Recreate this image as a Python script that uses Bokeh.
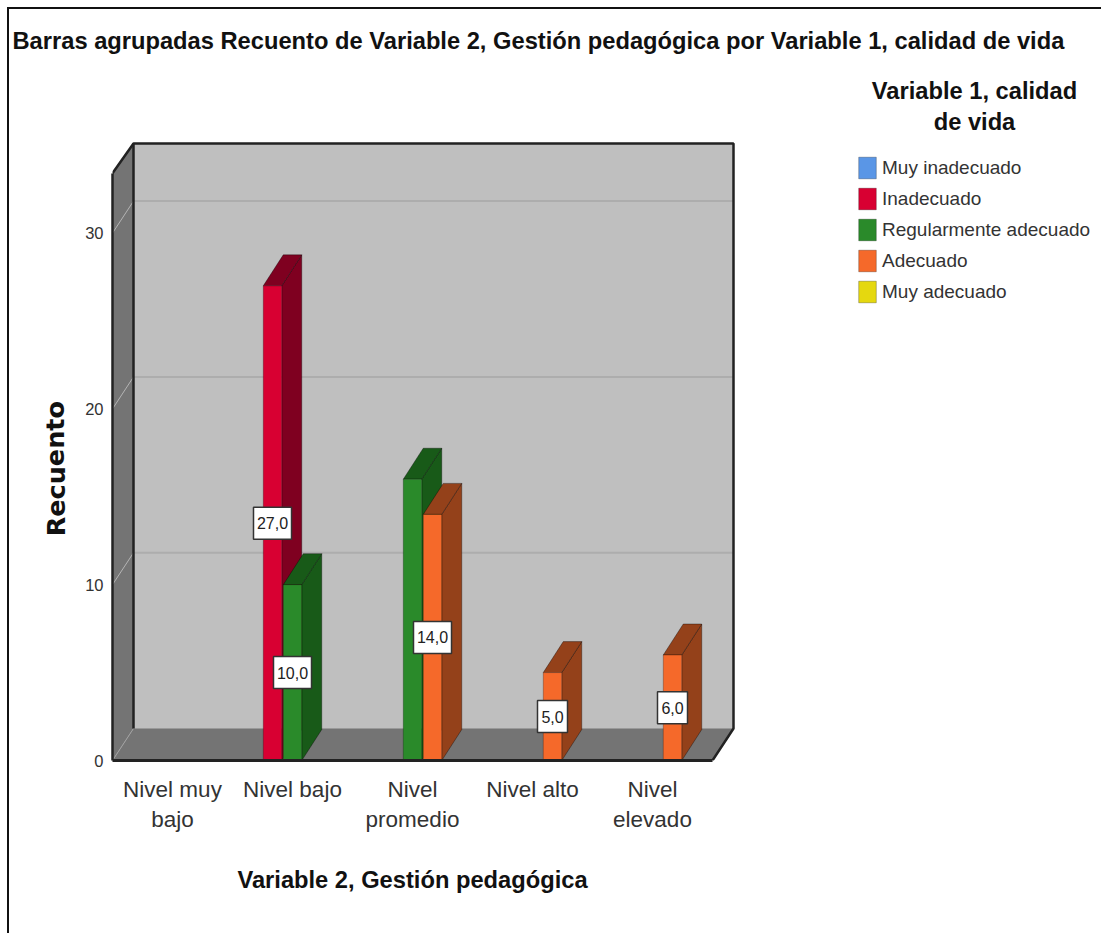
from bokeh.plotting import figure
from bokeh.embed import file_html
from bokeh.resources import INLINE
from bokeh.models import Range1d, Legend, LegendItem, Label, FixedTicker
from bokeh.core.properties import value

categories = ["Nivel muy\nbajo", "Nivel bajo", "Nivel\npromedio", "Nivel alto", "Nivel\nelevado"]
series_names = ["Muy inadecuado", "Inadecuado", "Regularmente adecuado", "Adecuado", "Muy adecuado"]
muy_inadecuado = [0, 0, 0, 0, 0]
inadecuado = [0, 27, 0, 0, 0]
regularmente = [0, 10, 16, 0, 0]
adecuado = [0, 0, 14, 5, 6]
muy_adecuado = [0, 0, 0, 0, 0]
all_series = [muy_inadecuado, inadecuado, regularmente, adecuado, muy_adecuado]
front_colors = ["#5a96e6", "#d80032", "#2a8a2a", "#f5692a", "#e5d80f"]
dark_colors = ["#2f5380", "#7f0020", "#185a18", "#94411a", "#807808"]
hidden_labels = {(2, 2)}  # (series, category) whose value box is not shown
y_ticks = [0, 10, 20, 30]

SANS = "Liberation Sans"
NAN = float("nan")

W, H = 1101, 933
PX_X = 120.0
PX_Y = 17.58
L, T, R, B = 112, 60, 0, H - 760
x0, x1 = -0.5, -0.5 + (W - L - R) / PX_X
y1 = (H - T - B) / PX_Y
DX = 21 / PX_X          # depth of the box in x
DY = 32 / PX_Y          # depth of the box in y
BX = 20 / PX_X          # depth of the bars in x
BY = 31 / PX_Y
STEP = 1 / 6.0
BW = 18.5 / PX_X
WALL_TOP = 35.1
FRONT_TOP = 33.4
FRONT_END = 4.5

p = figure(width=W, height=H, output_backend="svg", toolbar_location=None,
           x_range=Range1d(x0, x1), y_range=Range1d(0, y1),
           min_border_left=L, min_border_right=R, min_border_top=T, min_border_bottom=B,
           x_axis_location="below", y_axis_location="left")
p.grid.visible = False
p.outline_line_color = None
p.background_fill_color = "white"
p.border_fill_color = None
p.styles = {
    "background-color": "white",
    "background-image": "linear-gradient(#111,#111),linear-gradient(#111,#111)",
    "background-size": "2px 926px,1094px 2px",
    "background-position": "7px 7px,7px 7px",
    "background-repeat": "no-repeat",
}

# walls and floor
bx0 = x0 + DX
p.patch([bx0, FRONT_END + DX, FRONT_END + DX, bx0], [DY, DY, WALL_TOP, WALL_TOP],
        fill_color="#bfbfbf", line_color=None)
p.patch([x0, bx0, bx0, x0], [0, DY, WALL_TOP, FRONT_TOP], fill_color="#747474", line_color=None)
p.patch([x0, bx0, FRONT_END + DX, FRONT_END], [0, DY, DY, 0], fill_color="#747474", line_color=None)
# grid lines
for v in y_ticks[1:]:
    p.line([x0, bx0], [v, v + DY], line_color="#b4b4b4", line_width=1)
    p.line([bx0, FRONT_END + DX], [v + DY, v + DY], line_color="#adadad", line_width=2)
p.line([x0, bx0], [0, DY], line_color="#a0a0a0", line_width=1)
p.line([bx0, FRONT_END + DX], [DY, DY], line_color="#999999", line_width=1)
# box edges
EDGE = "#222222"
p.line([x0, bx0, FRONT_END + DX, FRONT_END + DX, FRONT_END],
       [FRONT_TOP, WALL_TOP, WALL_TOP, DY, 0], line_color=EDGE, line_width=2.5)
p.line([bx0, bx0], [DY, WALL_TOP], line_color=EDGE, line_width=2.5)

# bars
legend_items = []
for s, vals in enumerate(all_series):
    lefts, rights, tops, sx, sy, tx, ty = [], [], [], [], [], [], []
    for c, v in enumerate(vals):
        if v <= 0:
            continue
        a = c + (s - 2) * STEP - BW / 2
        b = a + BW
        lefts.append(a); rights.append(b); tops.append(v)
        sx.append([b, b + BX, b + BX, b]); sy.append([0, BY, v + BY, v])
        tx.append([a, a + BX, b + BX, b]); ty.append([v, v + BY, v + BY, v])
    p.patches(sx, sy, fill_color=dark_colors[s], line_color="#000000", line_alpha=0.35, line_width=1)
    p.patches(tx, ty, fill_color=dark_colors[s], line_color="#000000", line_alpha=0.35, line_width=1)
    if not tops:   # a series with no bars still needs its legend swatch
        lefts, rights, tops = [NAN], [NAN], [NAN]
    r = p.quad(left=lefts, right=rights, bottom=[0] * len(tops), top=tops,
               fill_color=front_colors[s], line_color="#000000", line_alpha=0.25, line_width=1)
    legend_items.append(LegendItem(label=value(series_names[s]), renderers=[r]))

# value boxes
lx, ly, lt, lw = [], [], [], []
for s, vals in enumerate(all_series):
    for c, v in enumerate(vals):
        if v > 0 and (s, c) not in hidden_labels:
            txt = f"{v:.1f}".replace(".", ",")
            lx.append(c + (s - 2) * STEP)
            ly.append(v / 2)
            lt.append(txt)
            lw.append(6 + 8 * len(txt))
p.rect(lx, ly, width=lw, height=32, width_units="screen", height_units="screen",
       fill_color="white", line_color="#333333", line_width=1.5)
p.text(lx, ly, text=lt, text_align="center", text_baseline="middle", text_color="#222222",
       text_font=value(SANS), text_font_size="16px")

# axes
xa = p.xaxis[0]
xa.ticker = FixedTicker(ticks=list(range(len(categories))))
xa.major_label_overrides = {i: t for i, t in enumerate(categories)}
xa.major_label_text_font = SANS
xa.major_label_text_font_size = "22.5px"
xa.major_label_text_color = "#333333"
xa.major_label_standoff = 10
xa.major_tick_line_color = None
xa.minor_tick_line_color = None
xa.axis_line_color = EDGE
xa.axis_line_width = 3
xa.bounds = (x0, FRONT_END)

ya = p.yaxis[0]
ya.ticker = FixedTicker(ticks=y_ticks)
ya.major_label_text_font = SANS
ya.major_label_text_font_size = "16.5px"
ya.major_label_text_color = "#333333"
ya.major_label_standoff = 3
ya.major_tick_line_color = None
ya.minor_tick_line_color = None
ya.axis_line_color = EDGE
ya.axis_line_width = 2.5
ya.bounds = (0, FRONT_TOP)

# title
p.title.text = "Barras agrupadas Recuento de Variable 2, Gestión pedagógica por Variable 1, calidad de vida"
p.title.text_font = SANS
p.title.text_font_style = "bold"
p.title.text_font_size = "23.7px"
p.title.text_color = "#111111"
p.title.align = "left"
p.title.offset = -100
p.title.standoff = 14

# legend
leg = Legend(items=legend_items, location=(856 - L, 760 - 305), orientation="vertical",
             glyph_width=22, glyph_height=27, spacing=4, label_standoff=4, padding=0, margin=0,
             border_line_color=None, background_fill_alpha=0,
             label_text_font=SANS, label_text_font_size="19px", label_text_color="#333333",
             label_height=22)
p.add_layout(leg)

p.add_layout(Label(x=974 - L, y=760 - 106, x_units="screen", y_units="screen",
                   text="Variable 1, calidad\nde vida", text_align="center", text_baseline="middle",
                   text_color="#111111", text_font=SANS, text_font_style="bold", text_font_size="23.7px"))

# axis titles, centred on the front edges of the box
p.add_layout(Label(x=2.0, y=-19, x_units="data", y_units="screen",
                   text="Variable 2, Gestión pedagógica", text_align="center", text_baseline="middle",
                   text_color="#111111", text_font=SANS, text_font_style="bold", text_font_size="23.7px"),
             "below")
p.add_layout(Label(x=3, y=16.6, x_units="screen", y_units="data", angle=1.5708,
                   text="Recuento", text_align="center", text_baseline="middle",
                   text_color="#111111", text_font="DejaVu Sans", text_font_style="bold", text_font_size="25.5px"),
             "left")

open("out.html", "w").write(file_html(p, INLINE))
